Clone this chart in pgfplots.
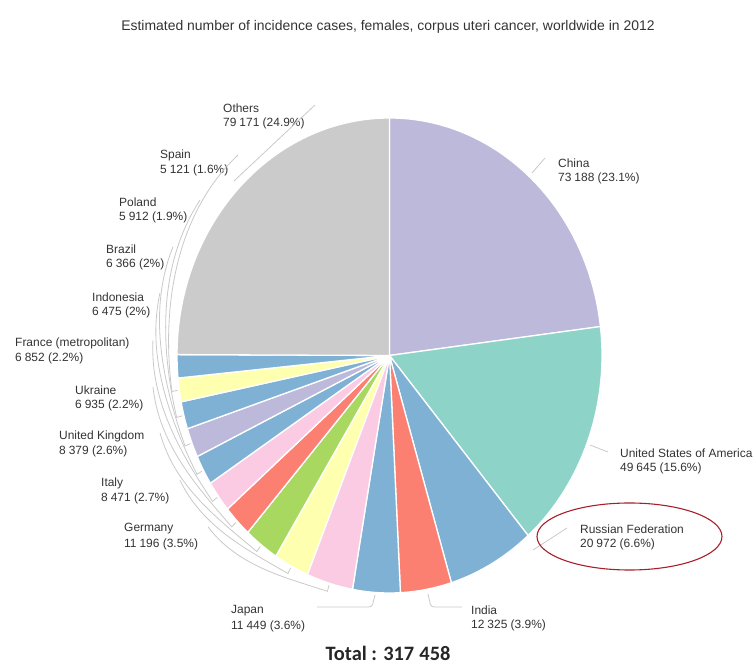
\documentclass[border=0pt]{standalone}
\usepackage{pgfplots}
\usepackage{pgfplotstable}
\pgfplotsset{compat=1.18}
\usepackage{fontspec}
\setmainfont{Liberation Sans}
\newfontfamily\totalfont{Carlito}

\definecolor{cLav}{HTML}{BDB9DB}
\definecolor{cTeal}{HTML}{8DD3C7}
\definecolor{cBlue}{HTML}{7FB1D5}
\definecolor{cSalmon}{HTML}{FB8072}
\definecolor{cPink}{HTML}{FACBE3}
\definecolor{cYellow}{HTML}{FFFFB0}
\definecolor{cGreen}{HTML}{A8D860}
\definecolor{cGrey}{HTML}{CBCBCB}
\definecolor{leadgrey}{HTML}{C9C9C9}
\definecolor{ringred}{HTML}{A81E2A}
\definecolor{txt}{HTML}{333333}

% incidence cases per country, clockwise from the top of the pie;
% lx, ly: where the label's first line starts
\pgfplotstableread[col sep=comma]{
name,value,color,lshow,lx,ly
China,73188,cLav,1,558,501
United States of America,49645,cTeal,1,620,211
Russian Federation,20972,cBlue,1,580,135
India,12325,cSalmon,1,471,54
Japan,11449,cBlue,1,231,53
Germany,11196,cPink,1,124,135
Italy,8471,cYellow,1,101,181
United Kingdom,8379,cGreen,1,59,228
Ukraine,6935,cSalmon,1,75,274
France (metropolitan),6852,cPink,1,15,321
Indonesia,6475,cBlue,1,92,367
Brazil,6366,cLav,1,106,415
Poland,5912,cBlue,1,119,462
Spain,5121,cYellow,1,160,509
Unlabelled,5001,cBlue,0,0,0
Others,79171,cGrey,1,223,556
}\piedata

% pie geometry (1 unit = 1bp)
\def\cx{389.5}
\def\cy{308.5}
\def\rx{212.5}
\def\ry{237.5}

% large-number arithmetic through the fpu, result kept globally
\newcommand\fpuset[2]{\begingroup
  \pgfkeys{/pgf/fpu=true,/pgf/fpu/output format=fixed}%
  \pgfmathparse{#2}\xdef#1{\pgfmathresult}\endgroup}

\tikzset{
  lbl/.style={font=\fontsize{12}{14}\selectfont, text=txt, inner sep=0pt, anchor=west},
  leader/.style={draw=leadgrey, line width=0.8bp},
}

% curved leader: from (angle #1, radius factor #2) to (angle #3, radius factor #4)
\newcommand\leader[4]{%
  \pgfmathsetmacro\hh{4/3*tan(((#3)-(#1))/4)}%
  \pgfmathsetmacro\ax{\cx+#2*\rx*cos(#1)}%
  \pgfmathsetmacro\ay{\cy+#2*\ry*sin(#1)}%
  \pgfmathsetmacro\bx{\cx+#4*\rx*cos(#3)}%
  \pgfmathsetmacro\by{\cy+#4*\ry*sin(#3)}%
  \pgfmathsetmacro\cax{\ax-\hh*#2*\rx*sin(#1)}%
  \pgfmathsetmacro\cay{\ay+\hh*#2*\ry*cos(#1)}%
  \pgfmathsetmacro\cbx{\bx+\hh*#4*\rx*sin(#3)}%
  \pgfmathsetmacro\cby{\by-\hh*#4*\ry*cos(#3)}%
  \pgfmathsetmacro\ex{\cx+1.008*\rx*cos(#3)}%
  \pgfmathsetmacro\ey{\cy+1.008*\ry*sin(#3)}%
  \draw[leader] (\ax,\ay) .. controls (\cax,\cay) and (\cbx,\cby) .. (\bx,\by) -- (\ex,\ey);
}

\begin{document}
\begin{tikzpicture}
\path[use as bounding box] (0,0) rectangle (755bp,664bp);
\begin{axis}[at={(0,0)}, anchor=south west, scale only axis,
  width=755bp, height=664bp, xmin=0, xmax=755, ymin=0, ymax=664,
  hide axis, clip=false]
\pgfplotsextra{%
  \pgfplotstablegetrowsof{\piedata}%
  \pgfmathtruncatemacro\lastrow{\pgfplotsretval-1}%
  \gdef\total{0}%
  \pgfplotsforeachungrouped \i in {0,...,\lastrow}{%
    \pgfplotstablegetelem{\i}{value}\of{\piedata}%
    \fpuset\total{\total+\pgfplotsretval}%
  }%
  \gdef\curang{90}%
  \pgfplotsforeachungrouped \i in {0,...,\lastrow}{%
    \pgfplotstablegetelem{\i}{value}\of{\piedata}\edef\val{\pgfplotsretval}%
    \pgfplotstablegetelem{\i}{color}\of{\piedata}\edef\col{\pgfplotsretval}%
    \pgfplotstablegetelem{\i}{name}\of{\piedata}\edef\lname{\pgfplotsretval}%
    \pgfplotstablegetelem{\i}{lshow}\of{\piedata}\edef\lshow{\pgfplotsretval}%
    \pgfplotstablegetelem{\i}{lx}\of{\piedata}\edef\lx{\pgfplotsretval}%
    \pgfplotstablegetelem{\i}{ly}\of{\piedata}\edef\ly{\pgfplotsretval}%
    \fpuset\nextang{\curang-360*\val/\total}%
    \fpuset\pct{100*\val/\total}%
    \fill[fill=\col, draw=white, line width=1.3bp, line join=round]
      (axis cs:\cx,\cy) -- (axis cs:{\cx+\rx*cos(\curang)},{\cy+\ry*sin(\curang)})
      arc[start angle=\curang, end angle=\nextang, x radius=\rx bp, y radius=\ry bp]
      -- cycle;
    \ifnum\lshow=1
      \node[lbl] at (axis cs:\lx,\ly) {\lname};
      \node[lbl] at (axis cs:\lx,{\ly-15.5}) {\pgfmathprintnumber[fixed,precision=0,
        1000 sep={\kern.25em},assume math mode=true]{\val}
        (\pgfmathprintnumber[fixed,precision=1,assume math mode=true]{\pct}\%)};
    \fi
    \global\let\curang\nextang
  }%
}
\end{axis}

\begin{scope}[x=1bp, y=1bp]
  % title
  \node[font=\fontsize{14}{16}\selectfont, text=txt] at (388,637)
    {Estimated number of incidence cases, females, corpus uteri cancer, worldwide in 2012};
  % leader lines
  \draw[leader] (234,483) -- (315,559);
  \leader{130.2}{1.105}{188.4}{1.035}
  \leader{143.7}{1.106}{194.6}{1.035}
  \leader{155.8}{1.117}{201.6}{1.035}
  \leader{166.3}{1.112}{208.9}{1.035}
  \leader{176.7}{1.115}{216.4}{1.035}
  \leader{186.8}{1.121}{224.2}{1.035}
  \leader{196.8}{1.128}{232.9}{1.035}
  \leader{208.0}{1.117}{242.5}{1.035}
  \leader{220.2}{1.118}{253.6}{1.035}
  \draw[leader, rounded corners=3bp] (317,57) -- (372,57) -- (375,69);
  \draw[leader, rounded corners=3bp] (462,57) -- (431,57) -- (428,70);
  \draw[leader] (533,114) -- (567,136);
  \draw[leader] (590,219) -- (608,212);
  \draw[leader] (532,491) -- (545,506);
  % highlight ring
  \draw[ringred, line width=1.1bp] (629.5,127.5) ellipse [x radius=92.5, y radius=33.5];
  % total
  \node[font=\totalfont\bfseries\fontsize{20.5}{22}\selectfont, text=black!85] at (388,11)
    {Total : \pgfmathprintnumber[fixed,precision=0,1000 sep={\kern.25em},assume math mode=true]{\total}};
\end{scope}
\end{tikzpicture}
\end{document}
